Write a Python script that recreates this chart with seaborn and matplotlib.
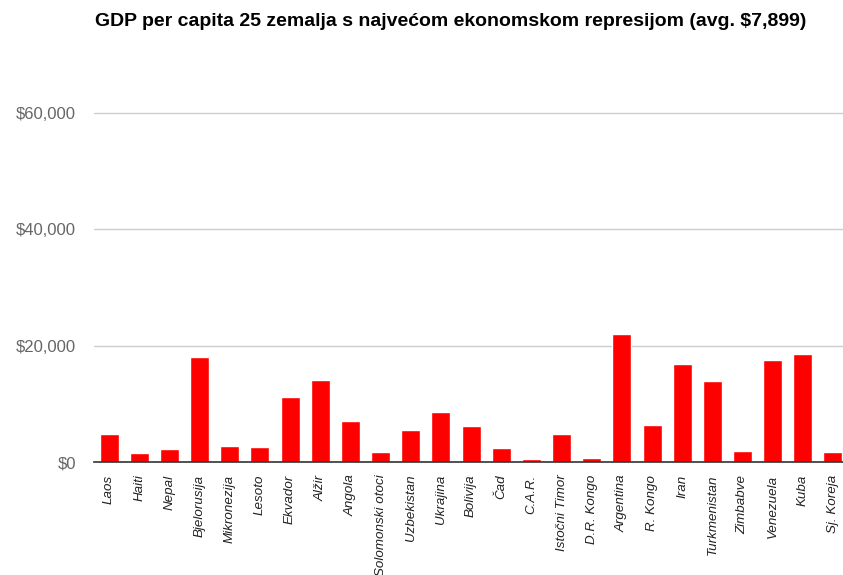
import matplotlib
matplotlib.use("Agg")
import matplotlib.pyplot as plt
import seaborn as sns
import pandas as pd
from matplotlib.ticker import FuncFormatter

# podaci (procijenjeno sa slike)
countries = ["Laos", "Haiti", "Nepal", "Bjelorusija", "Mikronezija", "Lesoto", "Ekvador",
             "Alžir", "Angola", "Solomonski otoci", "Uzbekistan", "Ukrajina", "Bolivija",
             "Čad", "C.A.R.", "Istočni Timor", "D.R. Kongo", "Argentina", "R. Kongo",
             "Iran", "Turkmenistan", "Zimbabve", "Venezuela", "Kuba", "Sj. Koreja"]
gdp = [4870, 1550, 2290, 18000, 2800, 2630, 11180, 14100, 7100, 1720, 5450, 8600, 6190,
       2460, 460, 4870, 630, 22070, 6360, 16900, 13930, 1890, 17590, 18570, 1720]
y_ticks = [0, 20000, 40000, 60000]
title = "GDP per capita 25 zemalja s najvećom ekonomskom represijom (avg. $7,899)"

df = pd.DataFrame({"country": countries, "gdp": gdp})

sns.set_theme(style="white")
plt.rcParams["font.family"] = ["Liberation Sans", "DejaVu Sans"]

fig = plt.figure(figsize=(8.43, 5.75), dpi=100)
ax = fig.add_axes([0.1115, 0.1965, 0.8945, 0.734])

sns.barplot(data=df, x="country", y="gdp", color="#ff0000", width=0.63,
            saturation=1, ax=ax, zorder=3)

ax.set_ylim(0, 72600)
ax.set_xlim(-0.5, len(countries) - 0.5)
ax.set_yticks(y_ticks)
ax.yaxis.set_major_formatter(FuncFormatter(lambda v, p: f"${v:,.0f}"))
ax.grid(axis="y", color="#cccccc", linewidth=1, zorder=0)
for s in ["top", "right", "left"]:
    ax.spines[s].set_visible(False)
ax.spines["bottom"].set_color("#333333")
ax.spines["bottom"].set_linewidth(1.2)
ax.spines["bottom"].set_zorder(4)
ax.tick_params(axis="y", length=0, pad=13, labelsize=12, labelcolor="#666666")
ax.tick_params(axis="x", length=0, pad=9, labelsize=9.6, labelcolor="#222222")
for lbl in ax.get_xticklabels():
    lbl.set_rotation(90)
    lbl.set_style("italic")
    lbl.set_ha("center")
    lbl.set_va("top")
ax.set_xlabel("")
ax.set_ylabel("")

fig.text(95 / 843, 1 - 22 / 575, title, fontsize=14, fontweight="bold",
         color="#000000", ha="left", va="center")

fig.savefig("out.png", dpi=100)
